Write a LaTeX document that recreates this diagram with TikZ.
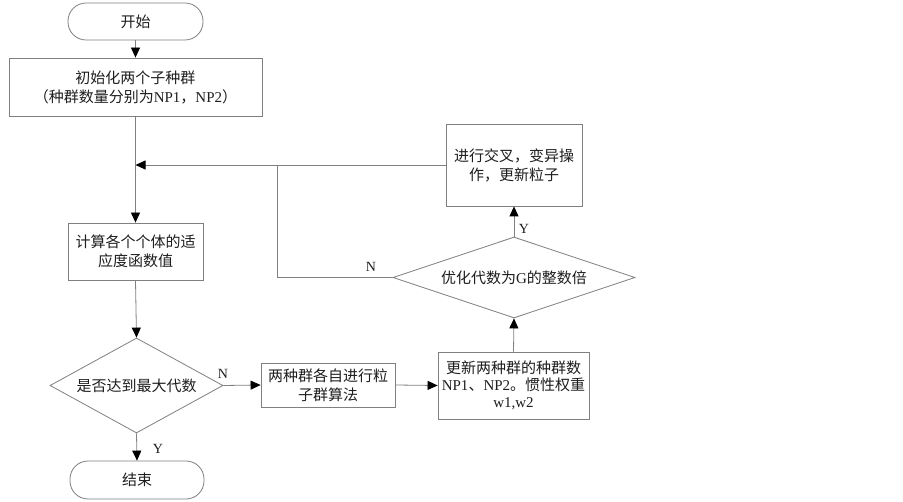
\documentclass[tikz,border=0pt]{standalone}
\usepackage{fontspec}
\setmainfont{Liberation Serif}
\newfontfamily\cjk{Noto Sans CJK SC}
\usetikzlibrary{shapes.geometric,arrows.meta}
\definecolor{linegray}{RGB}{128,128,128}
\definecolor{txt}{RGB}{30,30,30}
\begin{document}
\begin{tikzpicture}[x=1pt,y=-1pt,
  base/.style={draw=linegray, line width=0.8pt, inner sep=0pt, align=center, text=txt,
    font=\fontsize{15}{19}\selectfont},
  box/.style={base, rectangle},
  term/.style={base, rectangle, rounded corners=18pt},
  dec/.style={base, diamond},
  line/.style={draw=linegray, line width=0.8pt},
  arr/.style={line, -{Triangle[length=10pt,width=9pt,color=black,fill=black]}},
  lab/.style={font=\fontsize{14}{16}\selectfont, text=txt, inner sep=0pt}
]
\useasboundingbox (0,0) rectangle (903,502);
\fill[white] (0,0) rectangle (903,502);

\node[term, minimum width=135pt, minimum height=37pt] (start) at (135.5,21.5) {\cjk 开始};
\node[box, minimum width=253pt, minimum height=58pt] (init) at (135.5,87) {{\cjk 初始化两个子种群}\\{\cjk （种群数量分别为}NP1{\cjk ，}NP2{\cjk ）}};
\coordinate (junc) at (135.5,165);
\node[box, minimum width=135pt, minimum height=57pt] (calc) at (135.5,251.5) {{\cjk 计算各个个体的适}\\{\cjk 应度函数值}};
\node[dec, minimum width=173pt, minimum height=95pt, aspect=1.82] (d1) at (136.5,385.5) {\cjk 是否达到最大代数};
\node[term, minimum width=134pt, minimum height=38pt] (end) at (137,480) {\cjk 结束};
\node[box, minimum width=134pt, minimum height=44pt] (b2) at (328,385) {{\cjk 两种群各自进行粒}\\{\cjk 子群算法}};
\node[box, minimum width=151pt, minimum height=67pt, font=\fontsize{15}{17}\selectfont] (b3) at (513.5,385.5) {{\cjk 更新两种群的种群数}\\NP1{\cjk 、}NP2{\cjk 。惯性权重}\\w1,w2};
\node[dec, minimum width=242pt, minimum height=81pt, aspect=2.99] (d2) at (514,277.5) {{\cjk 优化代数为}G{\cjk 的整数倍}};
\node[box, minimum width=136pt, minimum height=82pt] (b4) at (514,165) {{\cjk 进行交叉，变异操}\\{\cjk 作，更新粒子}};
\coordinate (c1) at (277,277.5);
\coordinate (c2) at (277,165);

\draw[arr] (start.south) -- (init.north);
\draw[line] (init.south) -- (junc);
\draw[arr] (junc) -- (calc.north);
\draw[arr] (calc.south) -- (d1.north);
\draw[arr] (d1.south) -- (end.north);
\draw[arr] (d1.east) -- (b2.west);
\draw[arr] (b2.east) -- (b3.west);
\draw[arr] (b3.north) -- (d2.south);
\draw[arr] (d2.north) -- (b4.south);
\draw[arr] (b4.west) -- (junc);
\draw[line] (d2.west) -- (c1) -- (c2);

\node[lab] (ly1) at (158,449) {Y};
\node[lab] (ln1) at (223,374) {N};
\node[lab] (ly2) at (524,229) {Y};
\node[lab] (ln2) at (371,267) {N};
\end{tikzpicture}
\end{document}
